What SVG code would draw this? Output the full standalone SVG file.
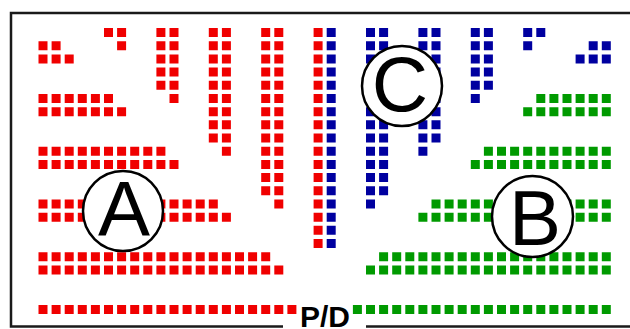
<svg xmlns="http://www.w3.org/2000/svg" width="630" height="329" viewBox="0 0 630 329">
<style>
.lbl circle{fill:#fff;stroke:#000;stroke-width:2.5}
.lbl text{font-family:"Liberation Sans",Arial,sans-serif;font-size:78px;fill:#000;text-anchor:middle}
.pd{font-family:"Liberation Sans",Arial,sans-serif;font-size:30px;font-weight:bold;fill:#000;text-anchor:middle}
.frame{fill:none;stroke:#1a1a1a;stroke-width:2.5}
.row{fill:none;stroke-width:9;stroke-dasharray:9 4.1}
.col{fill:none;stroke-width:9;stroke-dasharray:9 4.19}
.red{stroke:#f00000}
.blue{stroke:#0000a0}
.green{stroke:#009a00}
</style>
<rect width="630" height="329" fill="#fff"/>
<path class="frame" d="M283 326.5H11V13H640V326.5H366"/>
<g id="region-A">
<path class="row red" d="M38.5 45.69h22.1M38.5 58.88h35.2M38.5 98.45h74.5M38.5 111.64h87.6M38.5 151.21h126.9M38.5 164.4h140M38.5 203.97h179.3M38.5 217.16h192.4M38.5 256.73h231.7M38.5 269.92h244.8M38.5 309.49h257.9"/>
<path class="col red" d="M108.5 28v9M121.6 28v22.19M160.9 28v61.76M174 28v74.95M213.3 28v114.52M226.4 28v127.71M265.7 28v167.28M278.8 28v180.47M318.1 28v220.04"/>
</g>
<g id="region-C">
<path class="col blue" d="M331.2 28v220.04M370.5 28v180.47M383.6 28v167.28M422.9 28v127.71M436 28v114.52M475.3 28v74.95M488.4 28v61.76M527.7 28v22.19M540.8 28v9"/>
<path class="row blue" d="M588.7 45.69h22.1M575.6 58.88h35.2"/>
</g>
<g id="region-B">
<path class="row green" d="M536.3 98.45h74.5M523.2 111.64h87.6M483.9 151.21h126.9M470.8 164.4h140M431.5 203.97h179.3M418.4 217.16h192.4M379.1 256.73h231.7M366 269.92h244.8M352.9 309.49h257.9"/>
</g>
<g id="label-A" class="lbl"><circle cx="123" cy="211" r="40"/><text x="124" y="236">A</text></g>
<g id="label-C" class="lbl"><circle cx="402" cy="86" r="40"/><text x="400" y="111">C</text></g>
<g id="label-B" class="lbl"><circle cx="532.5" cy="216.5" r="40.5"/><text x="535" y="245">B</text></g>
<text id="pd-label" class="pd" x="325" y="327">P/D</text>
</svg>
